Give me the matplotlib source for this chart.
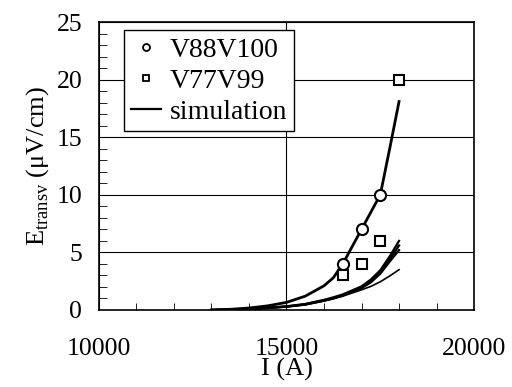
import matplotlib
matplotlib.use("Agg")
import matplotlib.pyplot as plt
from matplotlib.lines import Line2D
from matplotlib.ticker import MultipleLocator

plt.rcParams["font.family"] = ["Liberation Serif", "DejaVu Serif"]
plt.rcParams["mathtext.fontset"] = "custom"
plt.rcParams["mathtext.rm"] = "Liberation Serif"

# measured points
i_v88 = [16500, 17000, 17500]
e_v88 = [4.0, 7.0, 10.0]
i_v77 = [16500, 17000, 17500, 18000]
e_v77 = [3.0, 4.0, 6.0, 20.0]

# simulation curves
sim_i = [13000, 13500, 14000, 14500, 15000, 15500, 16000, 16250, 16500, 17000, 17250, 17500, 17750, 18000]
sim_hi = [0.0, 0.06, 0.17, 0.36, 0.66, 1.2, 2.1, 2.8, 4.0, 7.0, 8.5, 10.0, 14.0, 18.1]
sim_a = [0.0, 0.04, 0.1, 0.2, 0.32, 0.52, 0.88, 1.1, 1.35, 2.05, 2.65, 3.45, 4.65, 6.0]
sim_b = [0.0, 0.03, 0.09, 0.18, 0.3, 0.5, 0.84, 1.05, 1.3, 1.95, 2.5, 3.3, 4.4, 5.6]
sim_c = [0.0, 0.03, 0.08, 0.17, 0.28, 0.47, 0.8, 1.0, 1.25, 1.9, 2.4, 3.15, 4.2, 5.2]
sim_d = [0.0, 0.03, 0.08, 0.16, 0.27, 0.45, 0.78, 0.98, 1.2, 1.75, 2.05, 2.45, 2.95, 3.5]

fig = plt.figure(figsize=(5.12, 3.87), dpi=100)
ax = fig.add_axes([0.193, 0.199, 0.733, 0.744])

ax.plot(sim_i, sim_hi, color="black", lw=2.0, zorder=3)
for y, w in [(sim_a, 1.6), (sim_b, 1.6), (sim_c, 1.6), (sim_d, 1.2)]:
    ax.plot(sim_i, y, color="black", lw=w, zorder=3)

ax.plot(i_v88, e_v88, ls="none", marker="o", ms=8, mfc="white", mec="black",
        mew=1.5, zorder=4)
ax.plot(i_v77, e_v77, ls="none", marker="s", ms=7.5, mfc="white", mec="black",
        mew=1.5, zorder=4)

ax.set_xlim(10000, 20000)
ax.set_ylim(0, 25)
ax.set_xticks([10000, 15000, 20000])
ax.set_yticks([0, 5, 10, 15, 20, 25])
ax.xaxis.set_minor_locator(MultipleLocator(1000))
ax.yaxis.set_minor_locator(MultipleLocator(1))
ax.grid(True, which="major", color="black", lw=0.8)
ax.tick_params(which="both", direction="in", top=False, right=False,
               labelsize=18.5)
ax.tick_params(axis="x", which="major", length=0, pad=20)
ax.tick_params(axis="x", which="minor", length=5)
ax.tick_params(axis="y", which="major", length=0, pad=12)
ax.tick_params(axis="y", which="minor", length=6)
for s in ax.spines.values():
    s.set_linewidth(1.2)

ax.set_xlabel("I (A)", fontsize=19, labelpad=-1)
ax.set_ylabel(r"E$_{\mathrm{transv}}$ (μV/cm)", fontsize=19, labelpad=4)

handles = [
    Line2D([], [], ls="none", marker="o", ms=5, mfc="white", mec="black", mew=1.3),
    Line2D([], [], ls="none", marker="s", ms=5, mfc="white", mec="black", mew=1.3),
    Line2D([], [], color="black", lw=1.6),
]
leg = ax.legend(handles, ["V88V100", "V77V99", "simulation"], loc="upper left",
                bbox_to_anchor=(0.067, 0.972), borderaxespad=0, fontsize=20,
                frameon=True, fancybox=False, framealpha=1, edgecolor="black",
                handlelength=1.1, handletextpad=0.3, labelspacing=0.2,
                borderpad=0.25)
leg.get_frame().set_linewidth(1.0)

fig.savefig("out.png", dpi=100)
